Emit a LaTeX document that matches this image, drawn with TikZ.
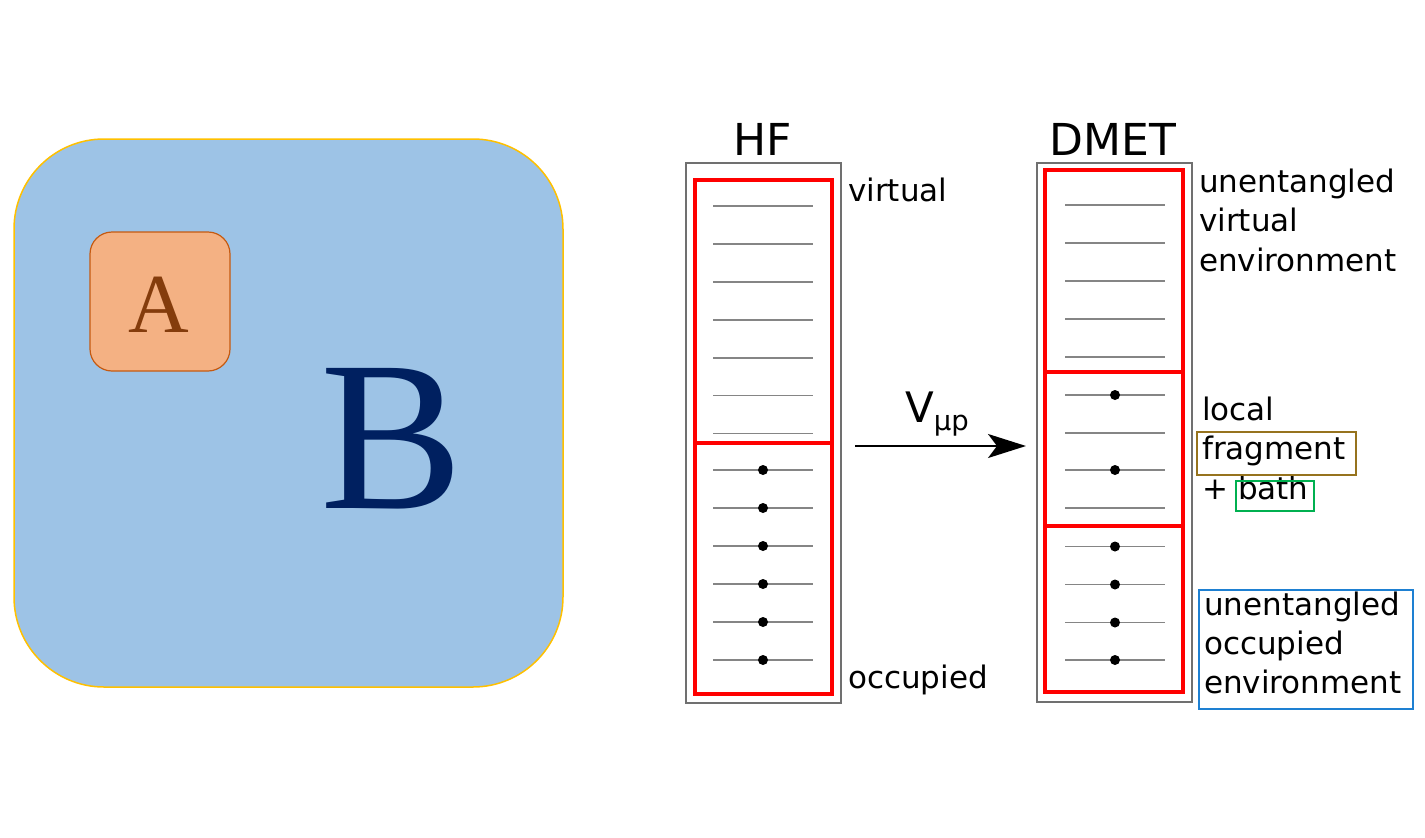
\documentclass[tikz,border=0pt]{standalone}
\usepackage{fontspec}
\setmainfont{DejaVu Sans}
\newfontfamily\serifAB{Liberation Serif}
\usetikzlibrary{arrows.meta}
\definecolor{bfill}{HTML}{9DC3E6}
\definecolor{bdraw}{HTML}{FFC000}
\definecolor{afill}{HTML}{F4B183}
\definecolor{adraw}{HTML}{C55A11}
\definecolor{atext}{HTML}{843C0C}
\definecolor{btext}{HTML}{002060}
\definecolor{levelgray}{HTML}{858585}
\definecolor{outergray}{HTML}{707070}
\definecolor{fragcol}{RGB}{150,115,30}
\definecolor{bathcol}{HTML}{00B050}
\definecolor{envcol}{RGB}{30,128,210}
\begin{document}
\begin{tikzpicture}[x=1pt,y=-1pt,
  lbl/.style={anchor=base west, inner sep=0pt, font=\fontsize{31}{31}\selectfont},
  title/.style={anchor=base, inner sep=0pt, font=\fontsize{44}{44}\selectfont},
  level/.style={draw=levelgray, line width=1.8pt},
  dot/.style={fill=black},
  redbox/.style={draw=red, line width=4pt},
  outerbox/.style={draw=outergray, line width=1.2pt},
  tagbox/.style={line width=1.5pt}]
\useasboundingbox (0,0) rectangle (1425,838);
% left panel
\draw[fill=bfill, draw=bdraw, line width=1.5pt, rounded corners=90pt] (14,139) rectangle (563,687);
\draw[fill=afill, draw=adraw, line width=1.2pt, rounded corners=22pt] (90,232) rectangle (230,371);
\node (A) [anchor=base, inner sep=0pt, text=atext, font=\serifAB\fontsize{84}{84}\selectfont] at (159,332) {A};
\node (B) [anchor=base, inner sep=0pt, text=btext, font=\serifAB\fontsize{214}{214}\selectfont] at (392,508) {B};
% HF column
\draw[outerbox] (686,163) rectangle (841,703);
\draw[redbox] (695,180) rectangle (832,694);
\draw[redbox] (695,443) -- (832,443);
\foreach \i in {0,...,6} \draw[level] (713,{206+37.9*\i}) -- (813,{206+37.9*\i});
\foreach \i in {0,...,5} {
  \draw[level] (713,{470+38*\i}) -- (813,{470+38*\i});
  \fill[dot] (763,{470+38*\i}) circle (5pt);
}
\node (hf) [title] at (763,155) {HF};
\node (virt) [lbl] at (848,201) {virtual};
\node (occ) [lbl] at (848,688) {occupied};
% DMET column
\draw[outerbox] (1037,163) rectangle (1192,702);
\draw[redbox] (1045,170) rectangle (1183,692);
\draw[redbox] (1045,372) -- (1183,372);
\draw[redbox] (1045,526) -- (1183,526);
\foreach \y in {205,243,281,319,357,395,433,470,508,546.5,584.5,622.5,660}
  \draw[level] (1065,\y) -- (1165,\y);
\foreach \y in {395,470,546.5,584.5,622.5,660}
  \fill[dot] (1115,\y) circle (5pt);
\node (dmet) [title] at (1113,155) {DMET};
% arrow
\coordinate (arrs) at (855,446);
\coordinate (arre) at (1026,446);
\draw[line width=2pt, -{Stealth[length=38pt,width=24pt,inset=9pt]}] (arrs) -- (arre);
\node (vmup) [anchor=base west, inner sep=0pt, font=\fontsize{42}{42}\selectfont] at (905,422) {V\raisebox{-8pt}{\fontsize{27.5}{27.5}\selectfont μp}};
% DMET labels
\node (u1) [lbl] at (1199,192) {unentangled};
\node (u2) [lbl] at (1199,231.5) {virtual};
\node (u3) [lbl] at (1199,271) {environment};
\node (loc) [lbl] at (1202,420) {local};
\node (frag) [lbl] at (1202,459) {fragment};
\node (plus) [lbl] at (1202,499) {+ bath};
\draw[tagbox, draw=fragcol] (1197,432) rectangle (1356,475);
\draw[tagbox, draw=bathcol] (1236,481) rectangle (1314,511);
\node (o1) [lbl] at (1204,615) {unentangled};
\node (o2) [lbl] at (1204,654) {occupied};
\node (o3) [lbl] at (1204,693) {environment};
\draw[tagbox, draw=envcol] (1199,590) rectangle (1413,709);
\end{tikzpicture}
\end{document}
